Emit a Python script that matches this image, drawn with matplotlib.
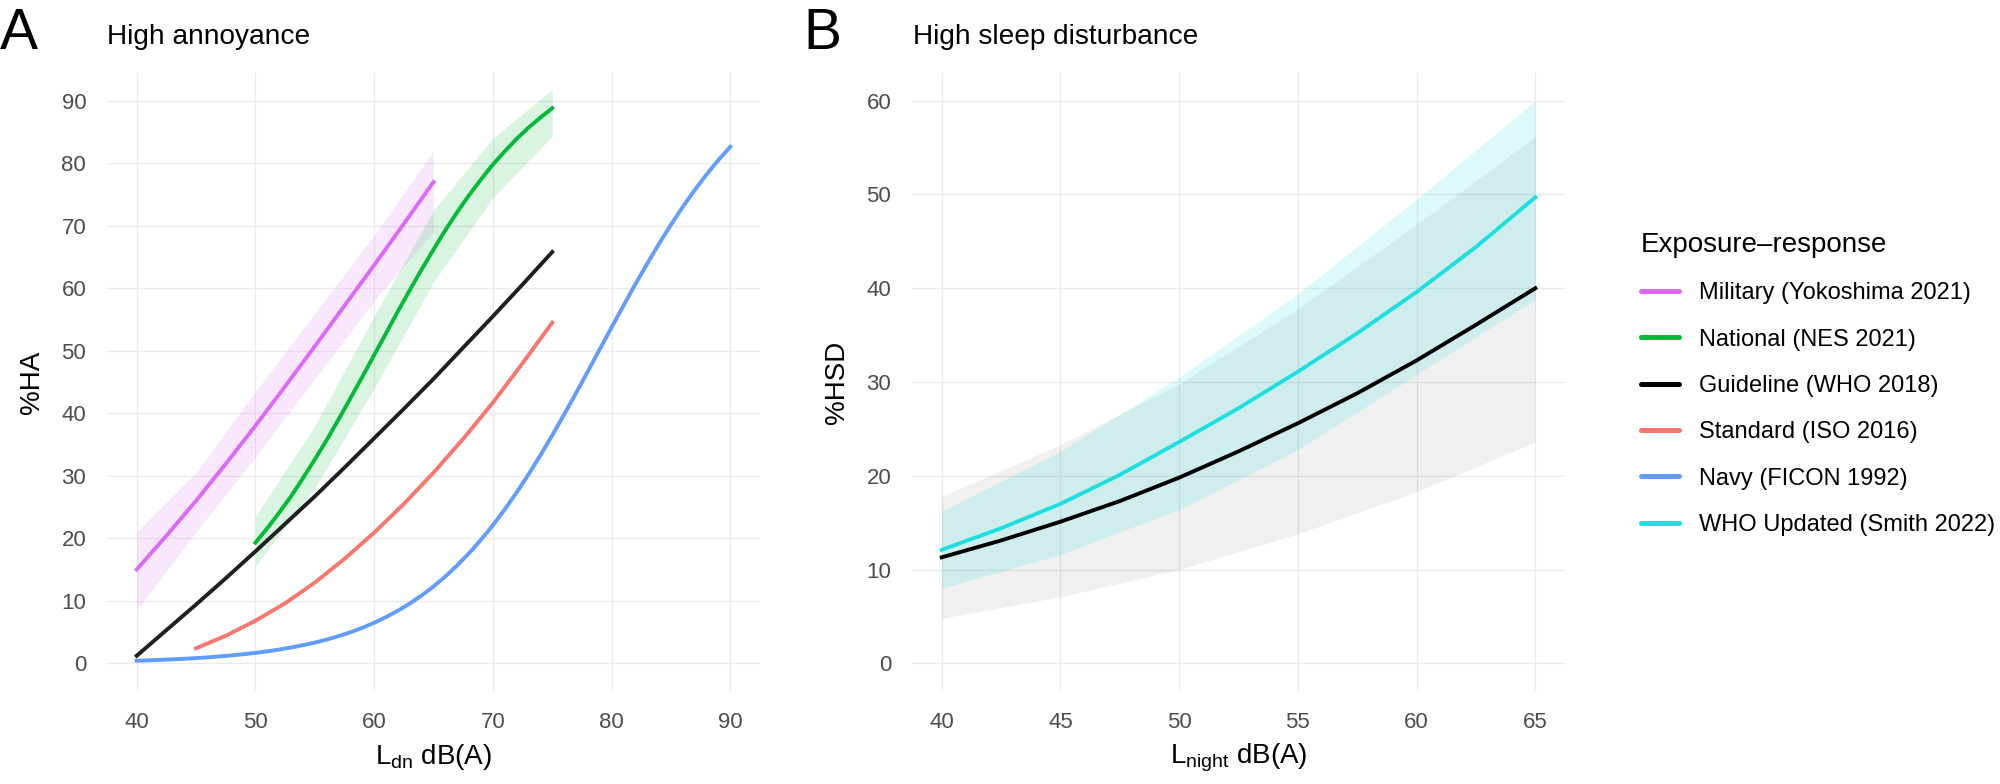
import matplotlib
matplotlib.use('Agg')
import matplotlib.pyplot as plt

plt.rcParams['font.family'] = ['Liberation Sans', 'DejaVu Sans']
plt.rcParams['mathtext.fontset'] = 'custom'
plt.rcParams['mathtext.rm'] = 'Liberation Sans'

# ---- panel A: high annoyance (%HA vs Ldn) ----
mil_x = [40, 42.5, 45, 47.5, 50, 52.5, 55, 57.5, 60, 62.5, 65]
mil_ha = [15, 20.4, 26.0, 31.9, 38.0, 44.3, 50.7, 57.2, 63.7, 70.3, 77.0]
mil_rib_x = [40, 45, 50, 55, 60, 65]
mil_lo = [8.5, 21, 33, 45.5, 58, 69]
mil_hi = [21, 30.5, 43.5, 56, 68.5, 82]

nat_x = list(range(50, 76))
nat_ha = [19.3, 21.6, 24.1, 26.7, 29.6, 32.6, 35.7, 39.0, 42.4, 45.8,
          49.3, 52.8, 56.3, 59.7, 63.0, 66.2, 69.3, 72.2, 74.9, 77.4,
          79.8, 81.9, 83.9, 85.7, 87.3, 88.8]
nat_rib_x = [50, 55, 60, 65, 70, 75]
nat_lo = [15.5, 28, 44, 61, 74.5, 84.3]
nat_hi = [23.5, 38, 55.5, 72.5, 84, 91.8]

who_x = [40, 42.5, 45, 47.5, 50, 52.5, 55, 57.5, 60, 62.5, 65, 67.5, 70, 72.5, 75]
who_ha = [1.2, 5.3, 9.4, 13.6, 17.9, 22.3, 26.7, 31.3, 36.0, 40.7, 45.5, 50.5, 55.5, 60.6, 65.8]

iso_x = [45, 47.5, 50, 52.5, 55, 57.5, 60, 62.5, 65, 67.5, 70, 72.5, 75]
iso_ha = [2.4, 4.4, 6.8, 9.6, 12.9, 16.7, 20.9, 25.5, 30.5, 35.9, 41.7, 48.0, 54.5]

navy_x = list(range(40, 91))
navy_ha = [0.41, 0.47, 0.54, 0.63, 0.72, 0.83, 0.95, 1.10, 1.26, 1.45,
           1.66, 1.91, 2.19, 2.52, 2.89, 3.31, 3.79, 4.34, 4.96, 5.67,
           6.48, 7.39, 8.41, 9.56, 10.85, 12.29, 13.89, 15.67, 17.62, 19.76,
           22.09, 24.61, 27.32, 30.21, 33.27, 36.47, 39.79, 43.21, 46.70, 50.23,
           53.74, 57.22, 60.64, 63.95, 67.13, 70.16, 73.03, 75.71, 78.21, 80.52,
           82.63]

# ---- panel B: high sleep disturbance (%HSD vs Lnight) ----
hsd_x = [40, 42.5, 45, 47.5, 50, 52.5, 55, 57.5, 60, 62.5, 65]
who_hsd = [11.3, 13.1, 15.1, 17.3, 19.8, 22.6, 25.6, 28.8, 32.3, 36.1, 40.0]
smith_hsd = [12.1, 14.4, 17.0, 20.1, 23.6, 27.2, 31.1, 35.2, 39.6, 44.4, 49.7]
hsd_rib_x = [40, 45, 50, 55, 60, 65]
who_lo = [4.8, 7.1, 10.0, 13.8, 18.3, 23.6]
who_hi = [17.8, 23.3, 29.8, 37.8, 46.8, 56.2]
smith_lo = [8.0, 11.6, 16.4, 22.8, 30.8, 38.8]
smith_hi = [16.2, 22.6, 30.5, 39.4, 49.5, 60.0]

labels = ['Military (Yokoshima 2021)', 'National (NES 2021)', 'Guideline (WHO 2018)',
          'Standard (ISO 2016)', 'Navy (FICON 1992)', 'WHO Updated (Smith 2022)']
colors = ['#DC6AF8', '#00BA38', '#000000', '#F8766D', '#619CFF', '#1CE0E0']

W, H = 2000, 784
fig = plt.figure(figsize=(10, 3.92), dpi=200)
axA = fig.add_axes([107 / W, 0.1181, 653 / W, 0.7893])
axB = fig.add_axes([912 / W, 0.1181, 653 / W, 0.7893])

lw = 1.4
axA.fill_between(mil_rib_x, mil_lo, mil_hi, color=colors[0], alpha=0.15, lw=0)
axA.fill_between(nat_rib_x, nat_lo, nat_hi, color=colors[1], alpha=0.15, lw=0)
axA.plot(navy_x, navy_ha, color=colors[4], lw=lw)
axA.plot(iso_x, iso_ha, color=colors[3], lw=lw)
axA.plot(who_x, who_ha, color='#1F1F1F', lw=lw)
axA.plot(nat_x, nat_ha, color=colors[1], lw=lw)
axA.plot(mil_x, mil_ha, color=colors[0], lw=lw)

axB.fill_between(hsd_rib_x, who_lo, who_hi, color='black', alpha=0.06, lw=0)
axB.fill_between(hsd_rib_x, smith_lo, smith_hi, color=colors[5], alpha=0.15, lw=0)
axB.plot(hsd_x, who_hsd, color='black', lw=lw)
axB.plot(hsd_x, smith_hsd, color=colors[5], lw=lw)

axA.set_xlim(37.5, 92.5)
axA.set_ylim(-4.5, 94.5)
axA.set_xticks(range(40, 91, 10))
axA.set_yticks(range(0, 91, 10))
axB.set_xlim(38.75, 66.25)
axB.set_ylim(-3, 63)
axB.set_xticks(range(40, 66, 5))
axB.set_yticks(range(0, 61, 10))

for ax in (axA, axB):
    for s in ax.spines.values():
        s.set_visible(False)
    ax.grid(True, color='#EBEBEB', lw=0.5)
    ax.set_axisbelow(True)
    ax.tick_params(length=0, labelsize=8, labelcolor='#4D4D4D', pad=7.5)

axA.set_xlabel(r'$\mathregular{L_{dn}}$ dB(A)', fontsize=10, labelpad=3)
axB.set_xlabel(r'$\mathregular{L_{night}}$ dB(A)', fontsize=10, labelpad=3)
axA.set_ylabel('%HA', fontsize=10, labelpad=6)
axB.set_ylabel('%HSD', fontsize=10, labelpad=6)

fig.text(107 / W, 1 - 44.3 / H, 'High annoyance', fontsize=10.1, va='baseline')
fig.text(913 / W, 1 - 44.3 / H, 'High sleep disturbance', fontsize=10.1, va='baseline')
fig.text(0, 1 - 49.3 / H, 'A', fontsize=20.5, va='baseline')
fig.text(803 / W, 1 - 49.3 / H, 'B', fontsize=20.5, va='baseline')

handles = [plt.Line2D([], [], color=c, lw=1.8, solid_capstyle='round') for c in colors]
leg = fig.legend(handles, labels, title='Exposure\u2013response', loc='upper left',
                 bbox_to_anchor=(1641 / W, 1 - 232 / H), frameon=False, fontsize=8.5,
                 title_fontsize=10, alignment='left', borderpad=0, borderaxespad=0,
                 handlelength=1.6, handletextpad=0.85, labelspacing=1.03)

fig.savefig('out.png', dpi=200)
